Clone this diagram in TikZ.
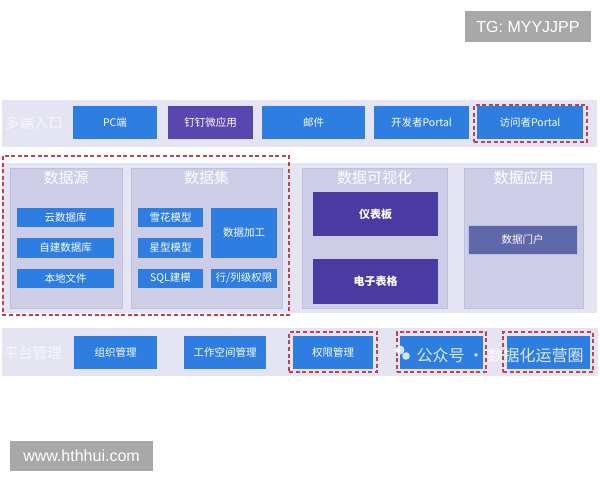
\documentclass[tikz,border=0pt]{standalone}
\usepackage{fontspec}
\setmainfont{Noto Sans CJK SC}
\newfontfamily\latinsans{Liberation Sans}
\begin{document}
\definecolor{bandc}{HTML}{E4E4F2}
\definecolor{panelc}{HTML}{CDCDE8}
\definecolor{panelb}{HTML}{BEBEDF}
\definecolor{boxblue}{HTML}{2E7DE1}
\definecolor{boxpurple}{HTML}{5A46AF}
\definecolor{boxdark}{HTML}{4B3AA0}
\definecolor{boxslate}{HTML}{5F69AA}
\definecolor{redc}{HTML}{C5404C}
\definecolor{tagc}{HTML}{A8A8A8}
\definecolor{labelc}{HTML}{F6F6FB}
\begin{tikzpicture}[x=1pt,y=-1pt,
  band/.style={fill=bandc,draw=none},
  panel/.style={fill=panelc,draw=panelb,line width=0.6pt},
  bbox/.style={fill=boxblue,draw=none,text=white,font=\fontsize{10.5}{12}\selectfont,inner sep=0pt},
  reddash/.style={draw=redc,line width=1.3pt,dash pattern=on 4pt off 2.6pt},
  seclabel/.style={text=labelc,font=\fontsize{14.5}{16}\selectfont},
  ptitle/.style={text=white,font=\fontsize{15}{17}\selectfont},
  tag/.style={fill=tagc,text=white,font=\latinsans\fontsize{16}{18}\selectfont,inner sep=0pt}]
\useasboundingbox (0,0) rectangle (600,480);
\fill[white] (0,0) rectangle (600,480);

% watermark tags
\node[tag,minimum width=126,minimum height=31] (tg) at (528,26.5) {TG: MYYJJPP};
\node[tag,minimum width=143,minimum height=30] (www) at (81.5,456) {www.hthhui.com};

% ---------- top band ----------
\fill[band] (2,100) rectangle (597,147);
\node[seclabel] (l1) at (34,123) {多端入口};
\node[bbox,minimum width=84,minimum height=33] (pc) at (115,122.5) {PC端};
\node[bbox,fill=boxpurple,minimum width=85,minimum height=33] (dd) at (210.5,122.5) {钉钉微应用};
\node[bbox,minimum width=103,minimum height=33] (mail) at (313.5,122.5) {邮件};
\node[bbox,minimum width=95,minimum height=33] (dev) at (421.5,122.5) {开发者Portal};
\node[bbox,minimum width=106,minimum height=33] (vis) at (530,122.5) {访问者Portal};
\node[reddash,minimum width=113,minimum height=37,inner sep=0pt] (visd) at (530.5,123.5) {};

% ---------- middle band ----------
\fill[band] (2,163) rectangle (597,313);
\draw[panel] (10,168) rectangle (122,308);
\draw[panel] (131,168) rectangle (282,308);
\draw[panel] (302,168) rectangle (447,308);
\draw[panel] (464,168) rectangle (583,308);
\node[ptitle] (t1) at (66,178) {数据源};
\node[ptitle] (t2) at (206.5,178) {数据集};
\node[ptitle] (t3) at (374.5,178) {数据可视化};
\node[ptitle] (t4) at (523.5,178) {数据应用};

\node[bbox,minimum width=97,minimum height=19.5] (s1) at (65.5,217.5) {云数据库};
\node[bbox,minimum width=97,minimum height=19.5] (s2) at (65.5,248) {自建数据库};
\node[bbox,minimum width=97,minimum height=19.5] (s3) at (65.5,278.5) {本地文件};

\node[bbox,minimum width=65,minimum height=19.5] (d1) at (170.5,217.5) {雪花模型};
\node[bbox,minimum width=65,minimum height=19.5] (d2) at (170.5,248) {星型模型};
\node[bbox,minimum width=65,minimum height=19.5] (d3) at (170.5,278.5) {SQL建模};
\node[bbox,minimum width=66,minimum height=50] (d4) at (244,233) {数据加工};
\node[bbox,minimum width=66,minimum height=19.5] (d5) at (244,278.5) {行/列级权限};

\node[bbox,fill=boxdark,font=\bfseries\fontsize{11}{13}\selectfont,minimum width=125,minimum height=44] (v1) at (375.5,214) {仪表板};
\node[bbox,fill=boxdark,font=\bfseries\fontsize{11}{13}\selectfont,minimum width=125,minimum height=45] (v2) at (375.5,281.5) {电子表格};

\node[bbox,fill=boxslate,draw=panelb,minimum width=109,minimum height=29] (a1) at (522.5,239.5) {数据门户};

\draw[reddash] (3,156) rectangle (289,315);

% ---------- bottom band ----------
\fill[band] (2,328) rectangle (598,376);
\node[seclabel] (l2) at (33,353) {平台管理};
\node[bbox,minimum width=83,minimum height=33] (p1) at (115.5,352.5) {组织管理};
\node[bbox,minimum width=82,minimum height=33] (p2) at (225,352.5) {工作空间管理};
\node[bbox,minimum width=80,minimum height=33] (p3) at (333,352.5) {权限管理};
\node[bbox,minimum width=83,minimum height=33] (p4) at (441.5,352.5) {};
\node[bbox,minimum width=83,minimum height=33] (p5) at (548.5,352.5) {};
\node[reddash,minimum width=88,minimum height=40,inner sep=0pt] (p3d) at (333,352) {};
\node[reddash,minimum width=89,minimum height=40,inner sep=0pt] (p4d) at (441.5,352) {};
\node[reddash,minimum width=90,minimum height=40,inner sep=0pt] (p5d) at (548,352) {};

% overlay watermark
\fill[white,opacity=0.8] (400,350) circle (4.5);
\fill[white,opacity=0.8] (406,356) circle (3.8);
\node[text=white,opacity=0.85,font=\fontsize{16}{18}\selectfont,anchor=west] (wm) at (413,355) {公众号 · 数据化运营圈};
\end{tikzpicture}
\end{document}
